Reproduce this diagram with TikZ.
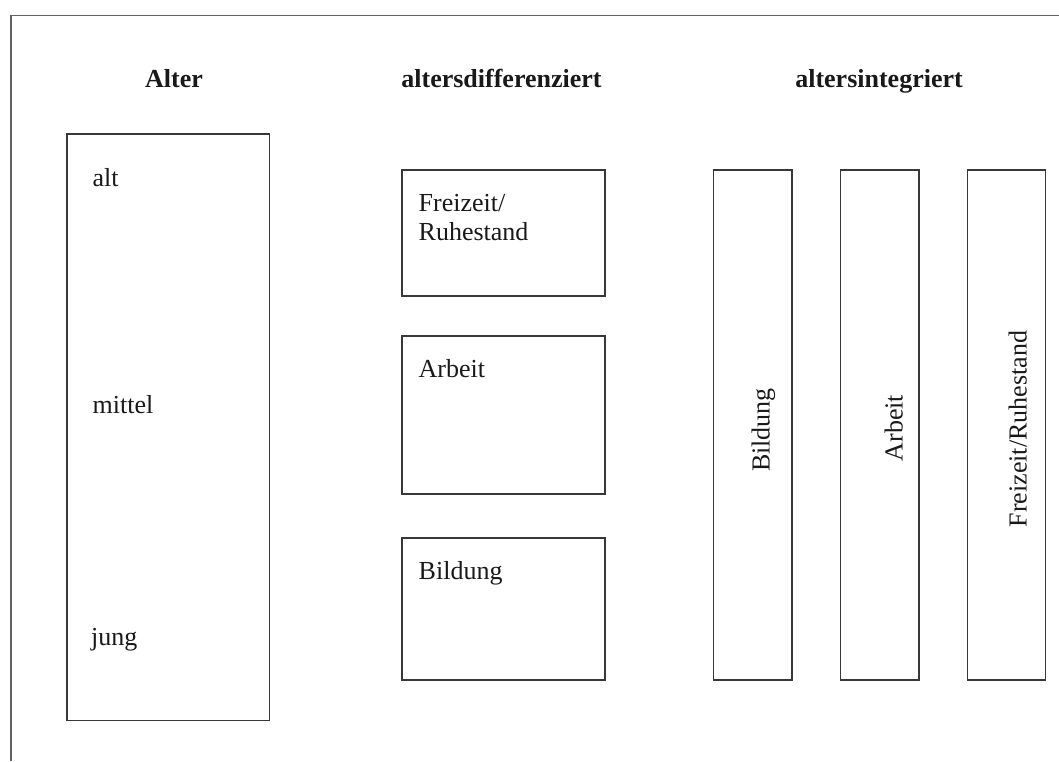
\documentclass[tikz,border=0pt]{standalone}
\usepackage{fontspec}
\setmainfont{Liberation Serif}
\begin{document}
\begin{tikzpicture}[x=1pt,y=-1pt,
  box/.style={draw=black!78,line width=1.7pt,inner sep=0pt},
  frameline/.style={draw=black!62,line width=1.9pt},
  lbl/.style={inner sep=0pt,anchor=base west,font=\fontsize{26}{29}\selectfont,text=black!90},
  ttl/.style={inner sep=0pt,anchor=base,font=\fontsize{26}{29}\selectfont\bfseries,text=black!90},
  vlbl/.style={inner sep=0pt,anchor=base,rotate=90,font=\fontsize{26}{29}\selectfont,text=black!90}]
\useasboundingbox (0,0) rectangle (1059,761);
% frame
\coordinate (fbl) at (11,761);
\coordinate (ftl) at (11,15.5);
\coordinate (ftr) at (1059,15.5);
\draw[frameline] (fbl) -- (ftl) -- (ftr);
% titles
\node[ttl] (t1) at (174,87) {Alter};
\node[ttl] (t2) at (501.5,87) {altersdifferenziert};
\node[ttl] (t3) at (879,87) {altersintegriert};
% age column
\node[box,minimum width=202.5pt,minimum height=586.5pt] (agebox) at (168.25,427.25) {};
\node[lbl] (alt) at (92.5,186.7) {alt};
\node[lbl] (mittel) at (92.5,413) {mittel};
\node[lbl] (jung) at (91,645) {jung};
% age-differentiated
\node[box,minimum width=203pt,minimum height=126pt] (frbox) at (503.5,233) {};
\node[lbl] (fr) at (418.5,211) {Freizeit/};
\node[lbl] (ru) at (418.5,240) {Ruhestand};
\node[box,minimum width=203pt,minimum height=158pt] (arbbox) at (503.5,415) {};
\node[lbl] (arb) at (418.5,377) {Arbeit};
\node[box,minimum width=203pt,minimum height=142pt] (bilbox) at (503.5,609) {};
\node[lbl] (bil) at (418.5,579) {Bildung};
% age-integrated
\node[box,minimum width=78.5pt,minimum height=510pt] (vbbox) at (752.75,425) {};
\node[box,minimum width=78.5pt,minimum height=510pt] (vabox) at (879.75,425) {};
\node[box,minimum width=78pt,minimum height=510pt] (vfbox) at (1006.5,425) {};
\node[vlbl] (vb) at (769.5,430) {Bildung};
\node[vlbl] (va) at (902.5,428) {Arbeit};
\node[vlbl] (vf) at (1026.5,429) {Freizeit/Ruhestand};
\end{tikzpicture}
\end{document}
